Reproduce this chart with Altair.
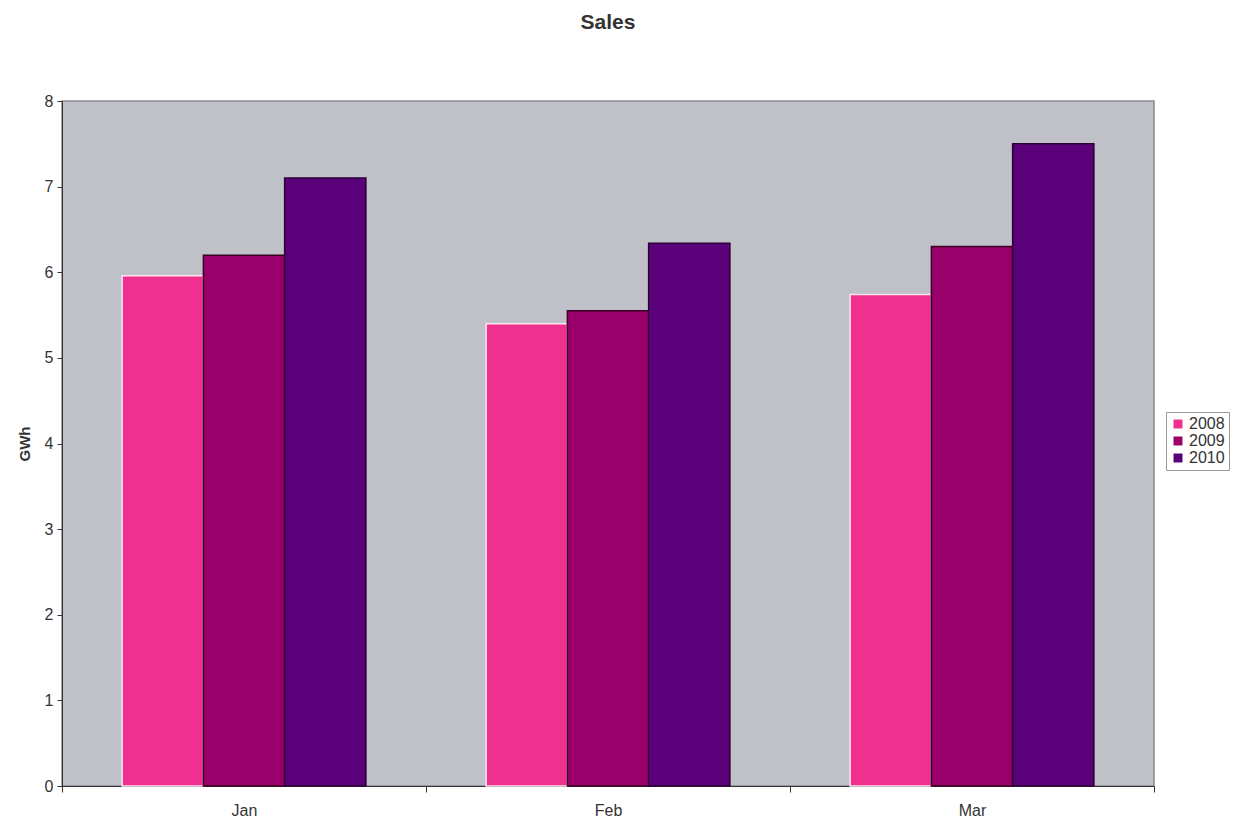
import altair as alt
import pandas as pd

months = ["Jan", "Feb", "Mar"]
years = ["2008", "2009", "2010"]
values = {
    "2008": [5.96, 5.40, 5.74],
    "2009": [6.20, 5.55, 6.30],
    "2010": [7.10, 6.34, 7.50],
}
colors = ["#F0308F", "#99006A", "#5A0078"]
strokes = ["#FFE6F2", "#3A0025", "#2A0035"]

rows = []
for y in years:
    for m, v in zip(months, values[y]):
        rows.append({"Month": m, "Year": y, "GWh": v})
df = pd.DataFrame(rows)

chart = alt.Chart(df).mark_bar(strokeWidth=1.5).encode(
    x=alt.X("Month:N", sort=months, title=None,
            scale=alt.Scale(paddingInner=0, paddingOuter=0),
            axis=alt.Axis(labelAngle=0, tickBand="extent", labelFontSize=16,
                          labelFont="Liberation Sans", labelColor="#333333",
                          domainColor="#333333", tickColor="#333333",
                          labelPadding=10, tickSize=6)),
    xOffset=alt.XOffset("Year:N", sort=years,
                        scale=alt.Scale(paddingInner=0, paddingOuter=0.74)),
    y=alt.Y("GWh:Q", title="GWh", scale=alt.Scale(domain=[0, 8]),
            axis=alt.Axis(values=list(range(9)), grid=False, labelFontSize=16,
                          labelFont="Liberation Sans", labelColor="#333333",
                          domainColor="#333333", tickColor="#333333",
                          titleFont="Liberation Sans", titleFontSize=15,
                          titleColor="#333333", titleFontWeight="bold",
                          titlePadding=12, tickSize=5, labelPadding=4)),
    color=alt.Color("Year:N", sort=years,
                    scale=alt.Scale(domain=years, range=colors),
                    legend=alt.Legend(title=None, orient="none", legendX=1104, legendY=311,
                                      symbolType="square", symbolSize=80,
                                      symbolStrokeWidth=0,
                                      labelFont="Liberation Sans", labelFontSize=16,
                                      labelColor="#333333", rowPadding=1,
                                      strokeColor="#999999", padding=4,
                                      fillColor="#ffffff", labelOffset=3)),
    stroke=alt.Stroke("Year:N", sort=years,
                      scale=alt.Scale(domain=years, range=strokes), legend=None),
).properties(
    width=1092, height=685,
    background="#ffffff",
    title=alt.TitleParams("Sales", font="Liberation Sans", fontSize=21,
                          fontWeight="bold", color="#333333", offset=60),
    autosize=alt.AutoSizeParams(type="none"),
    padding={"left": 62, "top": 101, "right": 87, "bottom": 37},
).configure_view(
    fill="#C0C0C8", stroke="#8a8a90", strokeWidth=1.5
)

chart.save("out.html", embed_options={"renderer": "svg", "actions": False})
